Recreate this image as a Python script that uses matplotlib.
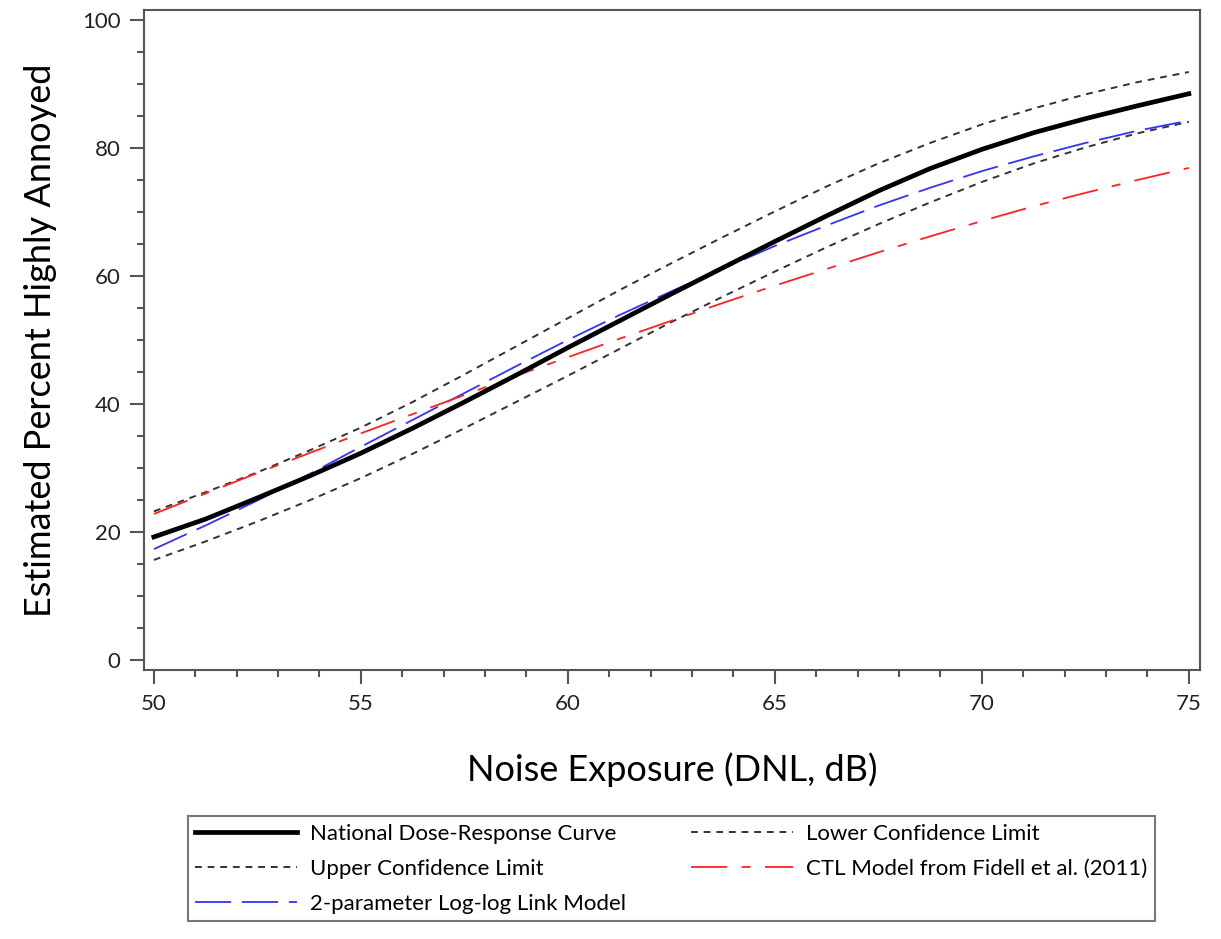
import matplotlib.pyplot as plt
from matplotlib.ticker import MultipleLocator

plt.rcParams['font.family'] = ['Lato', 'DejaVu Sans']

# values, every 1.25 dB
dnl = [50, 51.25, 52.5, 53.75, 55, 56.25, 57.5, 58.75, 60, 61.25, 62.5,
       63.75, 65, 66.25, 67.5, 68.75, 70, 71.25, 72.5, 73.75, 75]
national = [19.2, 22.0, 25.3, 28.7, 32.3, 36.2, 40.3, 44.5, 48.8, 53.0, 57.2,
            61.3, 65.4, 69.4, 73.3, 76.8, 79.8, 82.4, 84.6, 86.6, 88.5]
upper = [23.2, 26.2, 29.3, 32.7, 36.3, 40.3, 44.6, 49.0, 53.4, 57.8, 62.0,
         66.1, 70.1, 74.0, 77.6, 80.8, 83.7, 86.2, 88.4, 90.3, 91.9]
lower = [15.6, 18.5, 21.6, 24.9, 28.4, 32.2, 36.2, 40.3, 44.4, 48.6, 52.8,
         56.8, 60.7, 64.5, 68.1, 71.5, 74.7, 77.6, 80.1, 82.3, 84.1]
loglog = [17.3, 21.0, 24.9, 29.0, 33.3, 37.5, 41.7, 45.9, 50.0, 53.9, 57.6,
          61.2, 64.7, 67.9, 71.0, 73.8, 76.4, 78.7, 80.8, 82.7, 84.3]
ctl = [22.8, 26.0, 29.2, 32.3, 35.4, 38.4, 41.4, 44.4, 47.3, 50.2, 53.0,
       55.8, 58.5, 61.1, 63.7, 66.2, 68.6, 70.9, 73.0, 75.0, 76.9]

fig = plt.figure(figsize=(12.21, 9.39), dpi=100)
ax = fig.add_axes([0.1179, 0.2865, 0.8649, 0.7029])

h1, = ax.plot(dnl, national, color='black', lw=3.4, label='National Dose-Response Curve', zorder=5)
h2, = ax.plot(dnl, upper, color='#333333', lw=1.4, dashes=(3.5, 3), label='Upper Confidence Limit')
h4, = ax.plot(dnl, lower, color='#333333', lw=1.4, dashes=(3.5, 3), label='Lower Confidence Limit')
h3, = ax.plot(dnl, loglog, color='#3333ff', lw=1.3, dashes=(20, 6), label='2-parameter Log-log Link Model')
h5, = ax.plot(dnl, ctl, color='#ff2222', lw=1.3, dashes=(20, 8, 5, 8), label='CTL Model from Fidell et al. (2011)')

ax.set_xlim(49.76, 75.27)
ax.set_ylim(-1.6, 101.6)
ax.xaxis.set_major_locator(MultipleLocator(5))
ax.xaxis.set_minor_locator(MultipleLocator(1))
ax.yaxis.set_major_locator(MultipleLocator(20))
ax.yaxis.set_minor_locator(MultipleLocator(5))
ax.tick_params(which='major', length=10, width=1.5, color='#555555', labelsize=16,
               pad=7, labelcolor='#222222')
ax.tick_params(which='minor', length=5, width=1.5, color='#555555')
for s in ax.spines.values():
    s.set_color('#555555')
    s.set_linewidth(1.5)

ax.set_xlabel('Noise Exposure (DNL, dB)', fontsize=26, labelpad=28)
ax.set_ylabel('Estimated Percent Highly Annoyed', fontsize=26, labelpad=18)

leg = fig.legend(handles=[h1, h2, h3, h4, h5], ncol=2, loc='upper center',
                 bbox_to_anchor=(0.5496, 0.1305), borderaxespad=0, fontsize=16,
                 fancybox=False, edgecolor='#555555', handlelength=4.6,
                 handletextpad=0.6, columnspacing=2.9, labelspacing=0.68,
                 borderpad=0.32)
leg.get_frame().set_linewidth(1.5)

fig.savefig('out.png', dpi=100)
